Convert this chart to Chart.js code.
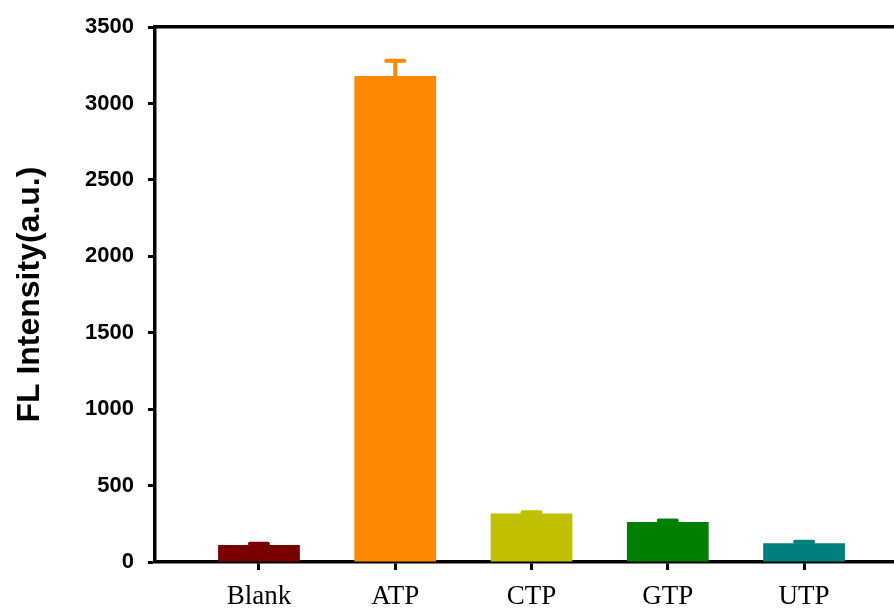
<!DOCTYPE html>
<html>
<head>
<meta charset="utf-8">
<title>FL Intensity</title>
<script src="https://cdn.jsdelivr.net/npm/chart.js@4/dist/chart.umd.min.js"></script>
<style>
  html, body { margin: 0; padding: 0; background: #ffffff; }
  #wrap { width: 894px; height: 610px; }
</style>
</head>
<body>
<div id="wrap"><canvas id="c" width="894" height="610"></canvas></div>
<script>
// Samples and their fluorescence intensity (mean, error)
const categories = ['Blank', 'ATP', 'CTP', 'GTP', 'UTP'];
const intensity  = [111, 3180, 318, 262, 122];
const errors     = [8, 100, 8, 10, 10];
const barColors  = ['#7a0000', '#ff8800', '#c0c000', '#007f00', '#007f7f'];
const yTicks     = [0, 500, 1000, 1500, 2000, 2500, 3000, 3500];

const points = categories.map((c, i) => ({ x: i + 1, y: intensity[i] }));

// Upper error bars, placed with the chart's own scales
const errorBars = {
  id: 'errorBars',
  afterDatasetsDraw(chart) {
    const meta = chart.getDatasetMeta(0);
    const yScale = chart.scales.y;
    const ctx = chart.ctx;
    ctx.save();
    ctx.lineWidth = 4;
    ctx.lineCap = 'round';
    meta.data.forEach((bar, i) => {
      const yTop = yScale.getPixelForValue(intensity[i] + errors[i]);
      ctx.strokeStyle = barColors[i];
      ctx.beginPath();
      ctx.moveTo(bar.x, bar.y);
      ctx.lineTo(bar.x, yTop);
      ctx.moveTo(bar.x - 9, yTop);
      ctx.lineTo(bar.x + 9, yTop);
      ctx.stroke();
    });
    ctx.restore();
  }
};

new Chart(document.getElementById('c'), {
  type: 'bar',
  data: {
    datasets: [{
      data: points,
      backgroundColor: barColors,
      borderWidth: 0,
      barPercentage: 1,
      categoryPercentage: 0.6
    }]
  },
  options: {
    responsive: false,
    animation: false,
    layout: { padding: { top: 25, right: 0, bottom: 0, left: 0 } },
    plugins: { legend: { display: false }, tooltip: { enabled: false } },
    scales: {
      x: {
        type: 'linear',
        position: 'bottom',
        offset: false,
        min: 0.237,
        max: 5.66,
        afterBuildTicks: s => { s.ticks = categories.map((c, i) => ({ value: i + 1 })); },
        afterFit: s => { s.height = 48; },
        grid: { display: true, offset: false, drawOnChartArea: false, drawTicks: true, tickLength: 8, tickWidth: 3, tickColor: '#000' },
        border: { display: true, color: '#000', width: 3.5 },
        ticks: {
          padding: 11,
          color: '#000',
          font: { family: "'Liberation Serif', 'Times New Roman', serif", size: 27 },
          callback: v => categories[v - 1] || ''
        }
      },
      xTop: {
        type: 'linear',
        position: 'top',
        offset: false,
        min: 0.237,
        max: 5.66,
        afterFit: s => { s.height = 0; },
        grid: { display: false },
        border: { display: true, color: '#000', width: 3.5 },
        ticks: { display: false }
      },
      y: {
        min: 0,
        max: 3500,
        afterBuildTicks: s => { s.ticks = yTicks.map(v => ({ value: v })); },
        afterFit: s => { s.width = 155; },
        grid: { display: true, drawOnChartArea: false, drawTicks: true, tickLength: 7, tickWidth: 3, tickColor: '#000' },
        border: { display: true, color: '#000', width: 3.5 },
        ticks: {
          padding: 14,
          color: '#000',
          font: { family: "'Liberation Sans', Arial, sans-serif", size: 22, weight: 'bold' },
          callback: v => String(v)
        },
        title: {
          display: true,
          text: 'FL Intensity(a.u.)',
          color: '#000',
          padding: { top: 11, bottom: 0 },
          font: { family: "'Liberation Sans', Arial, sans-serif", size: 32, weight: 'bold' }
        }
      }
    }
  },
  plugins: [errorBars]
});
</script>
</body>
</html>
